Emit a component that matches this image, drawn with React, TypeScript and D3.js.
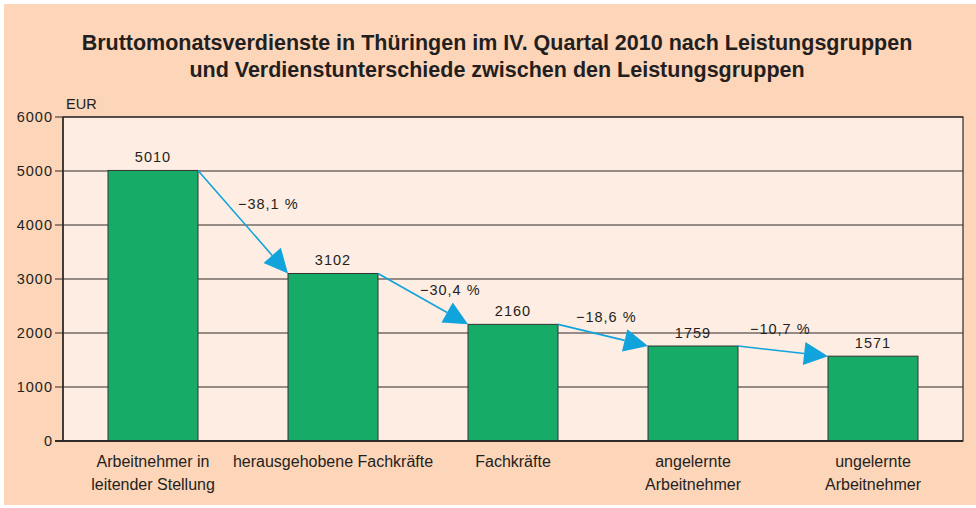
import React from 'react';
import * as d3 from 'd3';

// Leistungsgruppen (x-Achse), zweizeilig
const categories = [
  ['Arbeitnehmer in', 'leitender Stellung'],
  ['herausgehobene Fachkräfte'],
  ['Fachkräfte'],
  ['angelernte', 'Arbeitnehmer'],
  ['ungelernte', 'Arbeitnehmer'],
];
const earnings = [5010, 3102, 2160, 1759, 1571];
const differences = ['−38,1 %', '−30,4 %', '−18,6 %', '−10,7 %'];
const yTicks = [0, 1000, 2000, 3000, 4000, 5000, 6000];
const titleLines = [
  'Bruttomonatsverdienste in Thüringen im IV. Quartal 2010 nach Leistungsgruppen',
  'und Verdienstunterschiede zwischen den Leistungsgruppen',
];
// label offsets relative to arrow start (layout only)
const diffOffsets = [
  [40, 39],
  [42, 22],
  [18, -2],
  [12, -12],
];

const W = 976, H = 508;
const margin = { top: 117, right: 13, bottom: 67, left: 63 };
const font = '"Liberation Sans", Arial, sans-serif';
const arrowColor = '#10a3dc';
const textColor = '#231f20';

export default function App() {
  const x = d3.scaleBand<number>()
    .domain(d3.range(earnings.length))
    .range([margin.left, W - margin.right])
    .paddingInner(0.5)
    .paddingOuter(0.25);
  const y = d3.scaleLinear()
    .domain([0, 6000])
    .range([H - margin.bottom, margin.top]);

  const x0 = margin.left, x1 = W - margin.right;
  const y0 = y(0), y1 = y(6000);
  const cx = (i: number) => x(i)! + x.bandwidth() / 2;

  return (
    <svg width={W} height={H} style={{ position: 'absolute', left: 0, top: 0, display: 'block' }}>
      <rect x={0} y={0} width={W} height={H} fill="#fff" />
      <rect x={4} y={4} width={W - 4} height={H - 7} fill="#fdd5b9" />
      {titleLines.map((t, i) => (
        <text key={i} x={497} y={50 + i * 27} textAnchor="middle" fontFamily={font}
          fontWeight="bold" fontSize={21.5} fill={textColor}>{t}</text>
      ))}
      <rect x={x0} y={y1} width={x1 - x0} height={y0 - y1} fill="#feede3" stroke="#2e2a28" strokeWidth={1.2} />
      {yTicks.map(t => (
        <g key={t}>
          <line x1={x0 - 8} x2={x1} y1={y(t)} y2={y(t)} stroke="#2e2a28" strokeWidth={1.1} />
          <text x={x0 - 10} y={y(t) + 5} textAnchor="end" fontFamily={font} fontSize={14.5}
            letterSpacing={1} fill={textColor}>{t}</text>
        </g>
      ))}
      <text x={x0 + 3} y={y1 - 8} fontFamily={font} fontSize={14.5} fill={textColor}>EUR</text>
      {earnings.map((v, i) => (
        <g key={i}>
          <rect x={x(i)} y={y(v)} width={x.bandwidth()} height={y0 - y(v)} fill="#17ab68" stroke="#333" strokeWidth={1} />
          <text x={cx(i)} y={y(v) - 8.5} textAnchor="middle" fontFamily={font} fontSize={14.5}
            letterSpacing={1} fill={textColor}>{v}</text>
        </g>
      ))}
      <line x1={x0 - 8} x2={x1} y1={y0} y2={y0} stroke="#2e2a28" strokeWidth={2} />
      <line x1={x0} x2={x0} y1={y1} y2={y0} stroke="#2e2a28" strokeWidth={1.5} />
      {categories.map((lines, i) => (
        <g key={i} transform={`translate(${cx(i)},467)`}>
          {lines.map((l, j) => (
            <text key={j} x={0} y={j * 23} textAnchor="middle" fontFamily={font} fontSize={16} fill={textColor}>{l}</text>
          ))}
        </g>
      ))}
      {differences.map((d, i) => {
        const sx = x(i)! + x.bandwidth(), sy = y(earnings[i]);
        const ex = x(i + 1)!, ey = y(earnings[i + 1]);
        const ang = Math.atan2(ey - sy, ex - sx);
        const len = 24, half = 11.5;
        const bx = ex - len * Math.cos(ang), by = ey - len * Math.sin(ang);
        const px = -Math.sin(ang) * half, py = Math.cos(ang) * half;
        return (
          <g key={i}>
            <line x1={sx} y1={sy} x2={bx} y2={by} stroke={arrowColor} strokeWidth={1.6} />
            <polygon points={`${ex},${ey} ${bx + px},${by + py} ${bx - px},${by - py}`} fill={arrowColor} />
            <text x={sx + diffOffsets[i][0]} y={sy + diffOffsets[i][1]} fontFamily={font} fontSize={14.5}
              letterSpacing={1} fill={textColor}>{d}</text>
          </g>
        );
      })}
    </svg>
  );
}
